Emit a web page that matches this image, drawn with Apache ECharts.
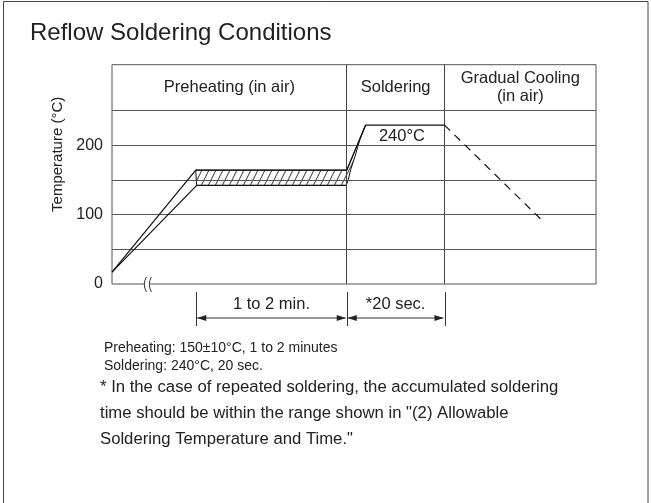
<!DOCTYPE html>
<html>
<head>
<meta charset="utf-8">
<script src="https://cdn.jsdelivr.net/npm/echarts@6/dist/echarts.min.js"></script>
<style>
  html, body { margin: 0; padding: 0; background: #fff; }
  #chart { width: 651px; height: 503px; }
</style>
</head>
<body>
<div id="chart"></div>
<script>
// time runs 0..100 across the plot (no scale shown), temperature in °C
const yTicks = [0, 100, 200];
const gridTemps = [50, 100, 150, 200, 250];
const phaseBounds = [0, 48.5, 68.7, 100];
const phaseNames = ['Preheating (in air)', 'Soldering', 'Gradual Cooling\n(in air)'];

// upper edge of the profile
const upperX = [0, 17.3, 48.5, 52.4, 68.7];
const upperT = [17, 164, 164, 229, 229];
// lower edge during preheating
const lowerX = [0, 17.5, 48.4];
const lowerT = [17, 142, 142];
// lower edge of the rise to soldering
const rampX = [48.4, 48.8, 49.3, 50.2, 51.2, 52.4];
const rampT = [142, 150, 164.5, 183.6, 207.7, 229];
// cooling (dashed)
const coolX = [68.7, 88.8];
const coolT = [229, 92];

const peakLabel = '240°C';
const peakLabelAt = [59.9, 212];

// dimension marks under the axis
const spanX = [17.4, 48.5, 68.7];
const spanLabels = ['1 to 2 min.', '*20 sec.'];
const breakAt = 7.3;

const notesA = ['Preheating: 150±10°C, 1 to 2 minutes', 'Soldering: 240°C, 20 sec.'];
const notesB = [
  '* In the case of repeated soldering, the accumulated soldering',
  'time should be within the range shown in "(2) Allowable',
  'Soldering Temperature and Time."'
];

const FONT = '"Liberation Sans", Arial, sans-serif';
const INK = '#222';

function zip(xs, ys) { return xs.map((x, i) => [x, ys[i]]); }

// hatched band = top plateau + rise, back down the ramp curve
const bandPts = [[upperX[1], upperT[1]], [upperX[2], upperT[2]]]
  .concat(zip(rampX, rampT).reverse())
  .concat([[lowerX[1], lowerT[1]]]);

// diagonal hatch pattern
const hatch = document.createElement('canvas');
hatch.width = 7; hatch.height = 14;
const hg = hatch.getContext('2d');
hg.fillStyle = '#fff';
hg.fillRect(0, 0, 7, 14);
hg.strokeStyle = '#333';
hg.lineWidth = 1;
hg.beginPath();
hg.moveTo(-7, 14); hg.lineTo(0, 0);
hg.moveTo(0, 14); hg.lineTo(7, 0);
hg.moveTo(7, 14); hg.lineTo(14, 0);
hg.stroke();

const chart = echarts.init(document.getElementById('chart'));

const headerAreas = phaseNames.map((n, i) => [
  { xAxis: phaseBounds[i], yAxis: 250, name: n },
  { xAxis: phaseBounds[i + 1], yAxis: 316 }
]);

chart.setOption({
  animation: false,
  grid: {
    left: 112, right: 55, top: 64.7, bottom: 219,
    show: true, borderColor: '#555', borderWidth: 1, backgroundColor: 'transparent'
  },
  xAxis: {
    type: 'value', min: 0, max: 100,
    axisLine: { show: false }, axisTick: { show: false },
    axisLabel: { show: false }, splitLine: { show: false }
  },
  yAxis: {
    type: 'value', min: 0, max: 316, interval: 100,
    name: 'Temperature (°C)', nameLocation: 'middle', nameGap: 47,
    nameTextStyle: { fontFamily: FONT, fontSize: 15, color: INK, padding: [0, 0, 0, 40] },
    axisLine: { show: false }, axisTick: { show: false }, splitLine: { show: false },
    axisLabel: {
      fontFamily: FONT, fontSize: 16, color: INK, margin: 9,
      formatter: v => (yTicks.indexOf(v) >= 0 ? String(v) : '')
    }
  },
  series: [
    {
      // horizontal rules + header cells
      type: 'line', data: [], z: 1, silent: true,
      markLine: {
        silent: true, symbol: 'none', label: { show: false },
        lineStyle: { color: '#555', width: 1, type: 'solid' },
        data: gridTemps.map(t => ({ yAxis: t }))
      },
      markArea: {
        silent: true,
        itemStyle: { color: 'transparent' },
        label: {
          show: true, position: 'inside', fontFamily: FONT, fontSize: 16.5,
          color: INK, lineHeight: 18
        },
        data: headerAreas
      }
    },
    {
      type: 'custom', z: 3, silent: true,
      data: bandPts,
      renderItem: function (params, api) {
        if (params.dataIndex !== 0) return null;
        const pts = bandPts.map(p => api.coord(p));
        return {
          type: 'polygon',
          shape: { points: pts },
          style: { fill: { image: hatch, repeat: 'repeat' }, stroke: '#111', lineWidth: 1 }
        };
      }
    },
    {
      // phase separators
      type: 'line', data: [], z: 5, silent: true,
      markLine: {
        silent: true, symbol: 'none', label: { show: false },
        lineStyle: { color: '#444', width: 1, type: 'solid' },
        data: phaseBounds.slice(1, 3).map(x => ({ xAxis: x }))
      }
    },
    {
      type: 'line', data: zip(upperX, upperT), symbol: 'none', z: 6,
      lineStyle: { color: '#111', width: 1.2 }
    },
    {
      type: 'line', data: zip(lowerX, lowerT), symbol: 'none', z: 6,
      lineStyle: { color: '#111', width: 1.2 }
    },
    {
      type: 'line', data: zip(coolX, coolT), symbol: 'none', z: 6,
      lineStyle: { color: '#111', width: 1.2, type: [8, 6] },
      markPoint: {
        symbol: 'rect', symbolSize: 0,
        label: { show: true, position: 'inside', fontFamily: FONT, fontSize: 16.5, color: INK, formatter: peakLabel },
        data: [{ coord: peakLabelAt }]
      }
    }
  ]
});

// annotations outside the plot
const px = x => chart.convertToPixel({ gridIndex: 0 }, [x, 0])[0];
const y0 = chart.convertToPixel({ gridIndex: 0 }, [0, 0])[1];
const g = [];

g.push({
  type: 'rect', shape: { x: 3.5, y: 1.5, width: 644.5, height: 540 },
  style: { fill: 'none', stroke: '#444', lineWidth: 1 }, silent: true
});
g.push({
  type: 'text', left: 30, top: 21,
  style: { text: 'Reflow Soldering Conditions', font: '24px ' + FONT, fill: INK }
});

// axis break
const bx = px(breakAt);
g.push({ type: 'rect', shape: { x: bx - 2.5, y: y0 - 2, width: 5, height: 4 }, style: { fill: '#fff' }, z: 10 });
[-2.5, 2.5].forEach(d => {
  g.push({
    type: 'bezierCurve', z: 11,
    shape: { x1: bx + d + 1.5, y1: y0 - 7, cpx1: bx + d - 2.5, cpy1: y0, x2: bx + d + 1.5, y2: y0 + 8 },
    style: { stroke: '#333', fill: 'none', lineWidth: 1 }
  });
});

// dimension lines
const dimTop = y0 + 8, dimBot = y0 + 42, arrowY = y0 + 34, labelY = y0 + 20;
spanX.forEach(x => {
  const xx = Math.round(px(x)) + 0.5;
  g.push({ type: 'line', shape: { x1: xx, y1: dimTop, x2: xx, y2: dimBot }, style: { stroke: '#333', lineWidth: 1 } });
});
for (let i = 0; i < spanLabels.length; i++) {
  const a = px(spanX[i]) + 1, b = px(spanX[i + 1]) - 1;
  g.push({ type: 'line', shape: { x1: a, y1: arrowY, x2: b, y2: arrowY }, style: { stroke: '#333', lineWidth: 1 } });
  g.push({ type: 'polygon', shape: { points: [[a, arrowY], [a + 9, arrowY - 3], [a + 9, arrowY + 3]] }, style: { fill: '#222' } });
  g.push({ type: 'polygon', shape: { points: [[b, arrowY], [b - 9, arrowY - 3], [b - 9, arrowY + 3]] }, style: { fill: '#222' } });
  g.push({
    type: 'text', x: (a + b) / 2, y: labelY,
    style: { text: spanLabels[i], font: '16.5px ' + FONT, fill: INK, textAlign: 'center', textVerticalAlign: 'middle' }
  });
}

notesA.forEach((t, i) => {
  g.push({
    type: 'text', x: 104, y: 348 + i * 18,
    style: { text: t, font: '14px ' + FONT, fill: INK, textVerticalAlign: 'middle' }
  });
});
notesB.forEach((t, i) => {
  g.push({
    type: 'text', x: 100, y: 387 + i * 26,
    style: { text: t, font: '16.7px ' + FONT, fill: INK, textVerticalAlign: 'middle' }
  });
});

chart.setOption({ graphic: { elements: g } });
</script>
</body>
</html>
